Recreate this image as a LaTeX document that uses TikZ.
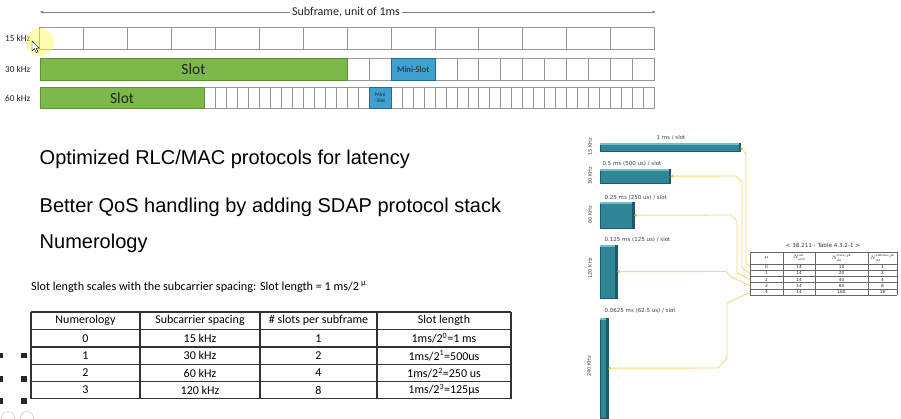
\documentclass[tikz,border=0pt]{standalone}
\usepackage{fontspec}
\setmainfont{Carlito}
\newfontfamily\arialf{Liberation Sans}
\newfontfamily\dvf{DejaVu Sans}
\usetikzlibrary{arrows.meta,calc}
\definecolor{slotgreen}{RGB}{124,185,74}
\definecolor{slotgreenD}{RGB}{92,145,55}
\definecolor{miniblue}{RGB}{64,160,208}
\definecolor{minibluD}{RGB}{40,105,145}
\definecolor{cellgray}{RGB}{150,150,150}
\definecolor{barteal}{RGB}{48,134,150}
\definecolor{barlight}{RGB}{112,190,205}
\definecolor{bardark}{RGB}{28,90,105}
\definecolor{connyel}{RGB}{244,216,125}
\definecolor{arrowc}{RGB}{240,180,30}
\definecolor{txt}{RGB}{35,35,35}
\begin{document}
\begin{tikzpicture}[x=1pt,y=-1pt,
  cell/.style={draw=cellgray,line width=0.6pt},
  slotbox/.style={draw=slotgreenD,fill=slotgreen,line width=0.5pt,inner sep=0,text=txt,font=\fontsize{15.5}{17}\selectfont},
  minibox/.style={draw=minibluD,fill=miniblue,line width=0.5pt,inner sep=0,text=txt,align=center},
  rowlbl/.style={anchor=west,inner sep=0,text=txt,font=\fontsize{9.2}{10}\selectfont},
  axisline/.style={draw=gray,line width=0.6pt,-{Latex[length=3.5pt,width=2.8pt]}},
  bullet/.style={anchor=base west,inner sep=0,text=black,font=\arialf\fontsize{20}{24}\selectfont},
  tline/.style={draw=black!80,line width=1.2pt},
  tcell/.style={inner sep=0,text=black,font=\fontsize{12}{14}\selectfont},
  bar/.style={fill=barteal,draw=bardark,line width=0.4pt,anchor=north west,inner sep=0},
  barlbl/.style={anchor=west,inner sep=0,text=black!75,font=\dvf\fontsize{5.5}{6.5}\selectfont},
  vlbl/.style={rotate=90,inner sep=0,text=black!75,font=\dvf\fontsize{5}{6}\selectfont},
  conn/.style={draw=connyel,line width=0.9pt,-{Triangle[length=2.8pt,width=2.8pt,color=arrowc]}},
  stline/.style={draw=black!60,line width=0.45pt},
  stcell/.style={inner sep=0,text=black!85,font=\dvf\fontsize{4.3}{5}\selectfont}
]
\useasboundingbox (0,0) rectangle (901,418);
\clip (0,0) rectangle (901,418);

% ---------- subframe arrow ----------
\coordinate (sfL) at (39.5,12);
\coordinate (sfR) at (656,12);
\node[fill=white,inner sep=1.5pt,text=txt,font=\fontsize{12}{13}\selectfont] (sf) at (346,12) {Subframe, unit of 1ms};
\draw[axisline] (sf.west) -- (sfL);
\draw[axisline] (sf.east) -- (sfR);

% ---------- row labels ----------
\node[rowlbl] (l15) at (5,38) {15 kHz};
\node[rowlbl] (l30) at (5,69) {30 kHz};
\node[rowlbl] (l60) at (5,98) {60 kHz};

% ---------- 15 kHz row ----------
\foreach \i in {0,...,13} \draw[cell] ({39.5+\i*43.9286},27) rectangle ++(43.9286,22);

% ---------- 30 kHz row ----------
\foreach \i in {14,...,27} \draw[cell] ({39.5+\i*21.9643},58) rectangle ++(21.9643,22);
\node[slotbox,minimum width=307.5pt,minimum height=22pt,anchor=north west] (s30) at (39.5,58) {Slot};
\node[minibox,minimum width=43.93pt,minimum height=22pt,anchor=north west,font=\fontsize{8.7}{9}\selectfont] (m30) at ({39.5+16*21.9643},58) {Mini-Slot};

% ---------- 60 kHz row ----------
\foreach \i in {15,...,55} \draw[cell] ({39.5+\i*10.9821},87) rectangle ++(10.9821,21);
\node[slotbox,minimum width=164.73pt,minimum height=21pt,anchor=north west] (s60) at (39.5,87) {Slot};
\node[minibox,minimum width=21.96pt,minimum height=21pt,anchor=north west,font=\fontsize{5.5}{6.2}\selectfont] (m60) at ({39.5+30*10.9821},87) {Mini\\-Slot};

% ---------- cursor highlight ----------
\fill[yellow!70,opacity=0.45] (40,42) circle (14);
\draw[black,fill=white,line width=0.4pt] (32,41) -- (32,51) -- (34.4,48.6) -- (36.4,52.6) -- (38,51.9) -- (36.1,48.1) -- (39.2,48.1) -- cycle;

% ---------- bullet texts ----------
\node[bullet] (t1) at (39.5,164) {Optimized RLC/MAC protocols for latency};
\node[bullet] (t2) at (39.5,212) {Better QoS handling by adding SDAP protocol stack};
\node[bullet] (t3) at (39.5,248) {Numerology};

% ---------- note ----------
\node[anchor=west,inner sep=0,text=black,font=\fontsize{12.2}{14}\selectfont] (note) at (31,287) {Slot length scales with the subcarrier spacing: Slot length = 1 ms/2\,\textsuperscript{µ}};

% ---------- numerology table ----------
\foreach \y in {312,329.5,347,364.3,381.5,398.7} \draw[tline] (31,\y) -- (511,\y);
\foreach \x in {31,140,260,377,511} \draw[tline] (\x,312) -- (\x,398.7);
\node[tcell] (h1) at (85.5,320.7) {Numerology};
\node[tcell] (h2) at (200,320.7) {Subcarrier spacing};
\node[tcell] (h3) at (318.5,320.7) {\# slots per subframe};
\node[tcell] (h4) at (444,320.7) {Slot length};
\foreach \n/\s/\k/\y [count=\i] in {0/15 kHz/1/338.2, 1/30 kHz/2/355.6, 2/60 kHz/4/372.9, 3/120 kHz/8/390.1} {
  \node[tcell] (n\i) at (85.5,\y) {\n};
  \node[tcell] (s\i) at (200,\y) {\s};
  \node[tcell] (k\i) at (318.5,\y) {\k};
}
\node[tcell] (ln1) at (444,338.2) {1ms/2\textsuperscript{0}=1 ms};
\node[tcell] (ln2) at (444,355.6) {1ms/2\textsuperscript{1}=500us};
\node[tcell] (ln3) at (444,372.9) {1ms/2\textsuperscript{2}=250 us};
\node[tcell] (ln4) at (444,390.1) {1ms/2\textsuperscript{3}=125µs};

% ---------- left dots ----------
\foreach \x in {-2.5,21} \foreach \y in {352.7,376,398.3}
  \fill[black!85] (\x,\y) rectangle ++(5.5,5.5);
\draw[black!25,line width=0.5pt] (8,418) circle (6.5);
\draw[black!25,line width=0.5pt] (27,418) circle (6.5);

% ---------- right: slot bars ----------
\node[bar,minimum width=140pt,minimum height=8pt] (b15) at (600,143) {};
\node[bar,minimum width=70pt,minimum height=14pt] (b30) at (600,169) {};
\node[bar,minimum width=33.5pt,minimum height=26pt] (b60) at (600,202) {};
\node[bar,minimum width=16.5pt,minimum height=53pt] (b120) at (600,245) {};
\node[bar,minimum width=7.5pt,minimum height=100pt] (b240) at (600,318) {};
\foreach \b in {b15,b30,b60,b120,b240} {
  \fill[barlight] (\b.north west) rectangle ([yshift=-1.8pt]\b.north east);
  \fill[bardark] ([xshift=-1.5pt]\b.north east) rectangle (\b.south east);
}
\node[anchor=center,inner sep=0,text=black!75,font=\dvf\fontsize{5.5}{6.5}\selectfont] (lb15) at (671,137.5) {1 ms / slot};
\node[barlbl] (lb30) at (602.5,164) {0.5 ms (500 us) / slot};
\node[barlbl] (lb60) at (604.5,197.5) {0.25 ms (250 us) / slot};
\node[barlbl] (lb120) at (604.5,240) {0.125 ms (125 us) / slot};
\node[barlbl] (lb240) at (604.5,311) {0.0625 ms (62.5 us) / slot};
\node[vlbl] (v15) at (590,147) {15 KHz};
\node[vlbl] (v30) at (590,176) {30 KHz};
\node[vlbl] (v60) at (590,215) {60 KHz};
\node[vlbl] (v120) at (590,268) {120 KHz};
\node[vlbl] (v240) at (589,366) {240 KHz};

% ---------- right: spec table ----------
\node[inner sep=0,text=black!80,font=\dvf\fontsize{5.6}{6.5}\selectfont] (stt) at (823,245) {< 38.211 - Table 4.3.2-1 >};
\foreach \y in {252,264,270.2,276.4,282.6,288.8,295} \draw[stline] (750,\y) -- (897,\y);
\foreach \x in {750,783,815,868,897} \draw[stline] (\x,252) -- (\x,295);
\node[stcell] (sh1) at (766.5,258) {$\mu$};
\node[stcell] (sh2) at (799,258) {$N^{\mathrm{slot}}_{\mathrm{symb}}$};
\node[stcell] (sh3) at (841.5,258) {$N^{\mathrm{frame},\mu}_{\mathrm{slot}}$};
\node[stcell] (sh4) at (882.5,258) {$N^{\mathrm{subframe},\mu}_{\mathrm{slot}}$};
\foreach \m/\f/\s/\y [count=\i] in {0/10/1/267.1, 1/20/2/273.3, 2/40/4/279.5, 3/80/8/285.7, 4/160/16/291.9} {
  \node[stcell] (sm\i) at (766.5,\y) {\m};
  \node[stcell] (sn\i) at (799,\y) {14};
  \node[stcell] (sf\i) at (841.5,\y) {\f};
  \node[stcell] (ss\i) at (882.5,\y) {\s};
}
\coordinate (r0) at (750,267.1);
\coordinate (r1) at (750,273.3);
\coordinate (r2) at (750,279.5);
\coordinate (r3) at (750,285.7);
\coordinate (r4) at (750,292.5);

% ---------- connectors ----------
\draw[conn] (r0) -- (746,263) -- (746,154) -- (b15.east);
\draw[conn] (r1) -- (742,268) -- (742,182) -- (736,176) -- (b30.east);
\draw[conn] (r2) -- (737,273) -- (737,221) -- (731,215) -- (b60.east);
\draw[conn] (r3) -- (731,277) -- (726,271.5) -- (b120.east);
\draw[conn] (r4) -- (727,303) -- (727,358) -- (718,368) -- (b240.east);
\end{tikzpicture}
\end{document}
